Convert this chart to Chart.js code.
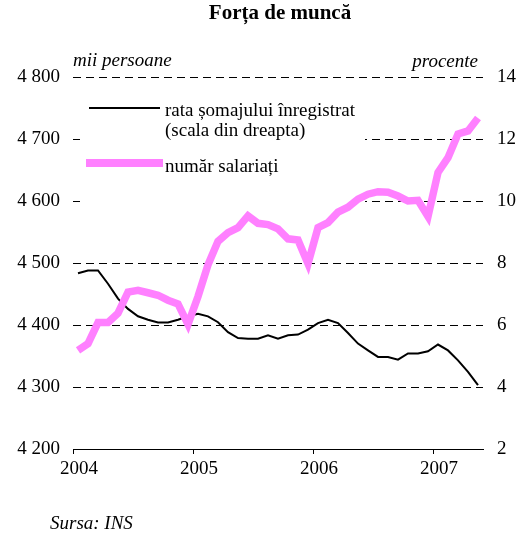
<!DOCTYPE html>
<html>
<head>
<meta charset="utf-8">
<script src="https://cdn.jsdelivr.net/npm/chart.js@4.4.1/dist/chart.umd.min.js"></script>
<style>
  body { margin: 0; background: #fff; }
  #wrap { position: relative; width: 520px; height: 533px; font-family: "Liberation Serif", "Times New Roman", serif; color: #000; }
  #wrap canvas { position: absolute; left: 0; top: 0; }
  .t { position: absolute; font-size: 19px; line-height: 21px; white-space: nowrap; }
  .it { font-style: italic; }
  .swatch { position: absolute; }
</style>
</head>
<body>
<div id="wrap">
  <canvas id="chart" width="520" height="533"></canvas>
  <div class="t" style="left:20px;width:520px;text-align:center;top:2px;font-weight:bold;font-size:21px;">Forța de muncă</div>
  <div class="t it" style="left:73px;top:49px;">mii persoane</div>
  <div class="t it" style="right:42px;top:50px;">procente</div>
  <div class="swatch" style="left:89px;top:107px;width:71px;height:2px;background:#000;"></div>
  <div class="t" style="left:165px;top:99px;">rata șomajului înregistrat</div>
  <div class="t" style="left:165px;top:119px;">(scala din dreapta)</div>
  <div class="swatch" style="left:86px;top:159px;width:77px;height:8px;background:#ff80ff;"></div>
  <div class="t" style="left:165px;top:155px;">număr salariați</div>
  <div class="t it" style="left:50px;top:512px;">Sursa: INS</div>
</div>
<script>
// monthly data, Jan 2004 - May 2007
const years = ['2004', '2005', '2006', '2007'];

// număr salariați (mii persoane)
const employees = [
  4359, 4370, 4404, 4404, 4419, 4453, 4456, 4452, 4448, 4440, 4434, 4401,
  4446, 4497, 4535, 4549, 4557, 4576, 4564, 4562, 4555, 4539, 4537, 4499,
  4557, 4565, 4582, 4590, 4603, 4611, 4615, 4614, 4608, 4600, 4601, 4575,
  4646, 4670, 4708, 4713, 4734
];

// rata somajului inregistrat (procente)
const unemployment = [
  7.67, 7.76, 7.76, 7.33, 6.85, 6.52, 6.28, 6.17, 6.08, 6.08, 6.17, 6.28,
  6.36, 6.28, 6.09, 5.77, 5.58, 5.56, 5.56, 5.67, 5.56, 5.67, 5.69, 5.85,
  6.06, 6.17, 6.06, 5.74, 5.40, 5.18, 4.97, 4.97, 4.88, 5.08, 5.08, 5.15,
  5.37, 5.18, 4.86, 4.49, 4.06
];

const fmtThousands = v => String(v).replace(/\B(?=(\d{3})+$)/, ' ');
const font = { family: '"Liberation Serif", "Times New Roman", serif', size: 19 };

// white box behind the legend, over the grid lines
const legendBox = {
  id: 'legendBox',
  beforeDatasetsDraw(chart) {
    const ctx = chart.ctx;
    ctx.save();
    ctx.fillStyle = '#fff';
    ctx.fillRect(80, 90, 285, 120);
    ctx.restore();
  }
};

new Chart(document.getElementById('chart'), {
  type: 'line',
  data: {
    datasets: [
      {
        label: 'rata șomajului înregistrat',
        data: unemployment.map((v, i) => ({ x: i + 0.5, y: v })),
        yAxisID: 'y1',
        borderColor: '#000',
        borderWidth: 2,
        pointRadius: 0,
        tension: 0,
        order: 2
      },
      {
        label: 'număr salariați',
        data: employees.map((v, i) => ({ x: i + 0.5, y: v })),
        yAxisID: 'y',
        borderColor: '#ff80ff',
        borderWidth: 7.5,
        borderJoinStyle: 'miter',
        borderCapStyle: 'butt',
        pointRadius: 0,
        tension: 0,
        order: 1
      }
    ]
  },
  options: {
    responsive: false,
    animation: false,
    layout: { padding: { top: 77, left: 0, right: 0, bottom: 0 } },
    plugins: { legend: { display: false }, tooltip: { enabled: false } },
    scales: {
      x: {
        type: 'linear',
        min: 0,
        max: 41,
        afterBuildTicks: axis => { axis.ticks = years.map((y, i) => ({ value: i * 12 })); },
        afterFit: axis => { axis.height = 84; },
        ticks: {
          callback: v => years[v / 12],
          color: '#000',
          font: font,
          padding: 4,
          labelOffset: 6,
          maxRotation: 0
        },
        grid: { drawOnChartArea: false, drawTicks: true, tickLength: 5, color: '#000', lineWidth: 1 },
        border: { display: true, color: '#000', width: 1 }
      },
      y: {
        position: 'left',
        min: 4200,
        max: 4800,
        afterFit: axis => { axis.width = 73; },
        ticks: { stepSize: 100, callback: v => fmtThousands(v), color: '#000', font: font, padding: 13 },
        grid: {
          drawTicks: false,
          tickLength: 0,
          color: ctx => ctx.tick && ctx.tick.value === 4200 ? 'rgba(0,0,0,0)' : '#000',
          lineWidth: 1
        },
        border: { display: false, dash: [8, 5] }
      },
      y1: {
        position: 'right',
        min: 2,
        max: 14,
        afterFit: axis => { axis.width = 37; },
        ticks: { stepSize: 2, color: '#000', font: font, padding: 14 },
        grid: { drawOnChartArea: false, drawTicks: false, tickLength: 0 },
        border: { display: false }
      }
    }
  },
  plugins: [legendBox]
});
</script>
</body>
</html>
